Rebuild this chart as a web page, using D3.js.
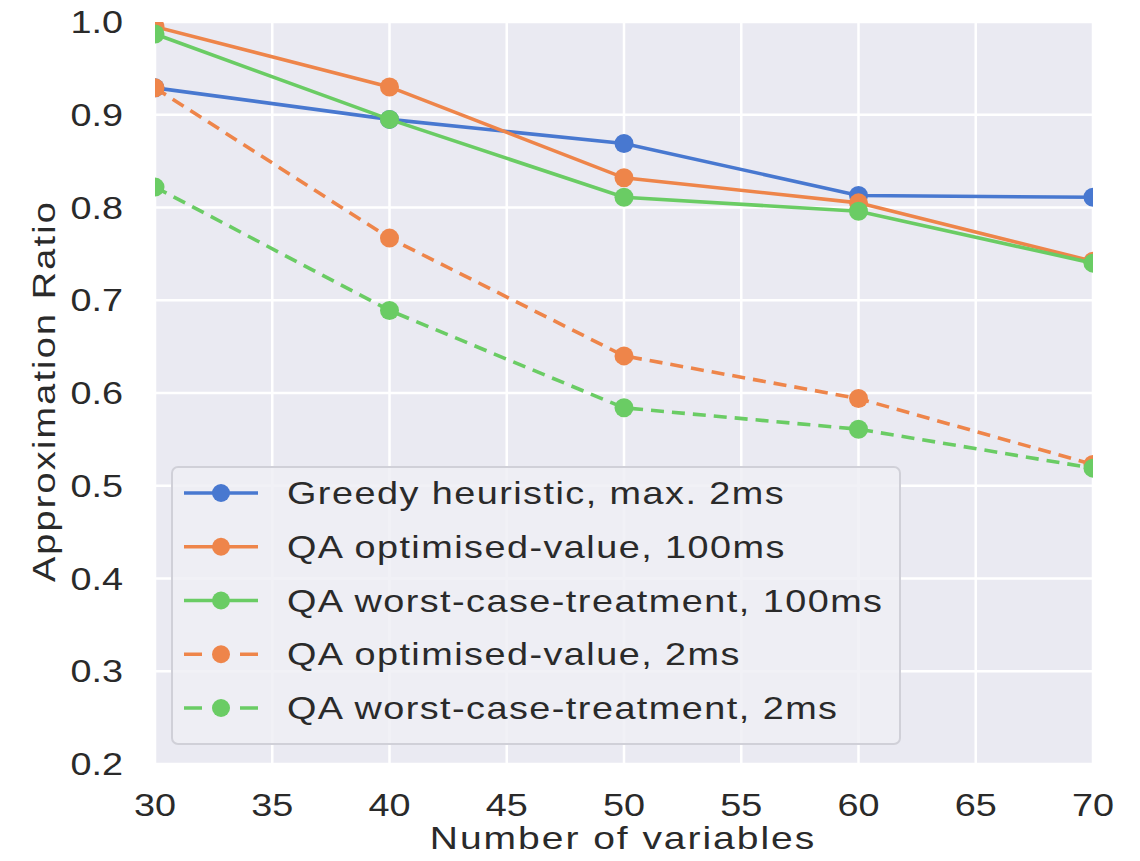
<!DOCTYPE html>
<html lang="en">
  <head>
    <meta charset="utf-8" />
    <title>Approximation Ratio</title>
    <script src="https://d3js.org/d3.v7.min.js" charset="utf-8"></script>
    <style>
      body { margin: 0; background: #fff; }
      text { font-family: "Liberation Sans", Arial, sans-serif; fill: #2a2a2a; }
    </style>
  </head>
  <body>
    <div id="graph-container"></div>
    <script type="text/javascript">
      // data
      const xValues = [30, 40, 50, 60, 70];
      const greedy = [0.929, 0.895, 0.869, 0.813, 0.811];
      const optValue100 = [0.995, 0.930, 0.832, 0.805, 0.742];
      const worstCase100 = [0.987, 0.895, 0.811, 0.796, 0.740];
      const optValue2 = [0.929, 0.767, 0.640, 0.594, 0.523];
      const worstCase2 = [0.822, 0.689, 0.584, 0.561, 0.519];
      const seriesNames = [
        "Greedy heuristic, max. 2ms",
        "QA optimised-value, 100ms",
        "QA worst-case-treatment, 100ms",
        "QA optimised-value, 2ms",
        "QA worst-case-treatment, 2ms",
      ];
      const xTicks = [30, 35, 40, 45, 50, 55, 60, 65, 70];
      const yTicks = [0.2, 0.3, 0.4, 0.5, 0.6, 0.7, 0.8, 0.9, 1.0];

      const cW = 1140,
        cH = 861,
        cLeft = 155,
        cRight = 1093,
        cTop = 22,
        cBottom = 764,
        cStretch = 1.22; // the fonts in the picture are drawn wide

      const series = [
        { name: seriesNames[0], values: greedy, color: "#4878d0", dashed: false },
        { name: seriesNames[1], values: optValue100, color: "#ee854a", dashed: false },
        { name: seriesNames[2], values: worstCase100, color: "#6acc64", dashed: false },
        { name: seriesNames[3], values: optValue2, color: "#ee854a", dashed: true },
        { name: seriesNames[4], values: worstCase2, color: "#6acc64", dashed: true },
      ];

      const svg = d3
        .select("#graph-container")
        .append("svg")
        .attr("width", cW)
        .attr("height", cH);

      const xScale = d3.scaleLinear().domain([30, 70]).range([cLeft, cRight]);
      const yScale = d3.scaleLinear().domain([0.2, 1.0]).range([cBottom, cTop]);

      svg
        .append("defs")
        .append("clipPath")
        .attr("id", "plot-clip")
        .append("rect")
        .attr("x", cLeft)
        .attr("y", cTop)
        .attr("width", cRight - cLeft)
        .attr("height", cBottom - cTop);

      //background and grid
      svg
        .append("rect")
        .attr("x", cLeft)
        .attr("y", cTop)
        .attr("width", cRight - cLeft)
        .attr("height", cBottom - cTop)
        .attr("fill", "#eaeaf2");

      const grid = svg.append("g").attr("stroke", "#fff").attr("stroke-width", 2.5);
      grid
        .selectAll("line.gx")
        .data(xTicks)
        .enter()
        .append("line")
        .attr("x1", (d) => xScale(d))
        .attr("x2", (d) => xScale(d))
        .attr("y1", cTop)
        .attr("y2", cBottom);
      grid
        .selectAll("line.gy")
        .data(yTicks)
        .enter()
        .append("line")
        .attr("y1", (d) => yScale(d))
        .attr("y2", (d) => yScale(d))
        .attr("x1", cLeft)
        .attr("x2", cRight);

      //tick labels (stretched text, so placed by hand from the scales)
      svg
        .append("g")
        .selectAll("g")
        .data(xTicks)
        .enter()
        .append("g")
        .attr("transform", (d) => `translate(${xScale(d)},816)`)
        .append("text")
        .attr("transform", `scale(${cStretch},1)`)
        .attr("text-anchor", "middle")
        .attr("font-size", 31)
        .text(d3.format("d"));
      svg
        .append("g")
        .selectAll("g")
        .data(yTicks)
        .enter()
        .append("g")
        .attr("transform", (d) => `translate(123,${yScale(d)})`)
        .append("text")
        .attr("transform", `scale(${cStretch},1)`)
        .attr("text-anchor", "end")
        .attr("dy", "0.36em")
        .attr("font-size", 31)
        .text(d3.format(".1f"));

      svg
        .append("text")
        .attr("transform", `translate(623,849) scale(${cStretch},1)`)
        .attr("text-anchor", "middle")
        .attr("font-size", 32)
        .style("letter-spacing", "1.6px")
        .text("Number of variables");
      svg
        .append("text")
        .attr("transform", `translate(55,391) rotate(-90) scale(${cStretch},1)`)
        .attr("text-anchor", "middle")
        .attr("font-size", 31)
        .style("letter-spacing", "1.8px")
        .text("Approximation Ratio");

      //lines and markers
      const line = d3
        .line()
        .x((d, i) => xScale(xValues[i]))
        .y((d) => yScale(d));
      const plot = svg.append("g").attr("clip-path", "url(#plot-clip)");
      series.forEach((s) => {
        plot
          .append("path")
          .datum(s.values)
          .attr("d", line)
          .attr("fill", "none")
          .attr("stroke", s.color)
          .attr("stroke-width", 3.6)
          .attr("stroke-dasharray", s.dashed ? "13,8" : null);
        plot
          .selectAll(null)
          .data(s.values)
          .enter()
          .append("circle")
          .attr("cx", (d, i) => xScale(xValues[i]))
          .attr("cy", (d) => yScale(d))
          .attr("r", 9.5)
          .attr("fill", s.color);
      });

      //legend
      const legend = svg.append("g").attr("id", "legend");
      legend
        .append("rect")
        .attr("x", 172)
        .attr("y", 467)
        .attr("width", 728)
        .attr("height", 277)
        .attr("rx", 6)
        .attr("fill", "#eeeef5")
        .attr("fill-opacity", 0.85)
        .attr("stroke", "#d0d0d8")
        .attr("stroke-width", 2);
      const items = legend
        .selectAll("g.item")
        .data(series)
        .enter()
        .append("g")
        .attr("transform", (d, i) => `translate(0,${493 + i * 53.75})`);
      items
        .append("line")
        .attr("x1", 184)
        .attr("x2", 258)
        .attr("stroke", (d) => d.color)
        .attr("stroke-width", 3.6)
        .attr("stroke-dasharray", (d) => (d.dashed ? "18,38,18" : null));
      items
        .append("circle")
        .attr("cx", 221)
        .attr("r", 9)
        .attr("fill", (d) => d.color);
      items
        .append("text")
        .attr("transform", `translate(287,11) scale(${cStretch},1)`)
        .attr("font-size", 31)
        .style("letter-spacing", "1.2px")
        .text((d) => d.name);
    </script>
  </body>
</html>
